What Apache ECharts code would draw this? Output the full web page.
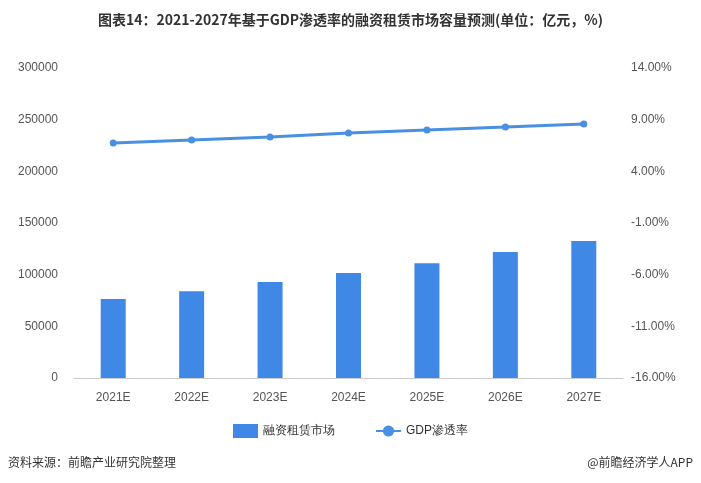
<!DOCTYPE html>
<html>
<head>
<meta charset="utf-8">
<script src="https://cdn.jsdelivr.net/npm/echarts@6/dist/echarts.min.js"></script>
<style>body{margin:0}#chart{width:701px;height:483px}</style>
</head>
<body>
<div id="chart"></div>
<script>
var years = ['2021E', '2022E', '2023E', '2024E', '2025E', '2026E', '2027E'];
var marketSize = [76500, 84000, 93000, 101600, 111000, 122000, 132600];
var gdpRate = [6.74, 7.03, 7.32, 7.7, 8.0, 8.29, 8.58];

var chart = echarts.init(document.getElementById('chart'));
chart.setOption({
    title: {
        text: '图表14：2021-2027年基于GDP渗透率的融资租赁市场容量预测(单位：亿元，%)',
        left: 'center', top: 8,
        textStyle: {fontSize: 14, fontWeight: 'bold', color: '#333', fontFamily: 'Noto Sans CJK SC'}
    },
    graphic: [
        {type: 'text', left: 8, top: 456, style: {text: '资料来源：前瞻产业研究院整理', fontSize: 12, fill: '#333', fontFamily: 'Noto Sans CJK SC'}},
        {type: 'text', right: 8, top: 456, style: {text: '@前瞻经济学人APP', fontSize: 12, fill: '#333', fontFamily: 'Noto Sans CJK SC'}}
    ],
    legend: {
        bottom: 40, itemGap: 40,
        textStyle: {fontSize: 12, color: '#333'},
        data: [{name: '融资租赁市场', icon: 'rect'}, 'GDP渗透率']
    },
    grid: {left: 74, right: 78, top: 68, bottom: 105},
    xAxis: {
        type: 'category', data: years,
        axisTick: {show: false},
        axisLine: {lineStyle: {color: '#ccc'}},
        axisLabel: {color: '#555', fontSize: 12, margin: 14}
    },
    yAxis: [
        {type: 'value', min: 0, max: 300000, interval: 50000,
         splitLine: {show: false}, axisLine: {show: false}, axisTick: {show: false},
         axisLabel: {color: '#555', fontSize: 12, margin: 16, formatter: function (v) { return String(v); }}},
        {type: 'value', min: -16, max: 14, interval: 5,
         splitLine: {show: false}, axisLine: {show: false}, axisTick: {show: false},
         axisLabel: {color: '#555', fontSize: 12, formatter: function (v) { return v.toFixed(2) + '%'; }}}
    ],
    series: [
        {name: '融资租赁市场', type: 'bar', data: marketSize, barWidth: 25,
         itemStyle: {color: '#3f88e6'}},
        {name: 'GDP渗透率', type: 'line', yAxisIndex: 1, data: gdpRate,
         symbol: 'circle', symbolSize: 7,
         lineStyle: {color: '#4a90e2', width: 3}, itemStyle: {color: '#4a90e2'}}
    ]
});
</script>
</body>
</html>
